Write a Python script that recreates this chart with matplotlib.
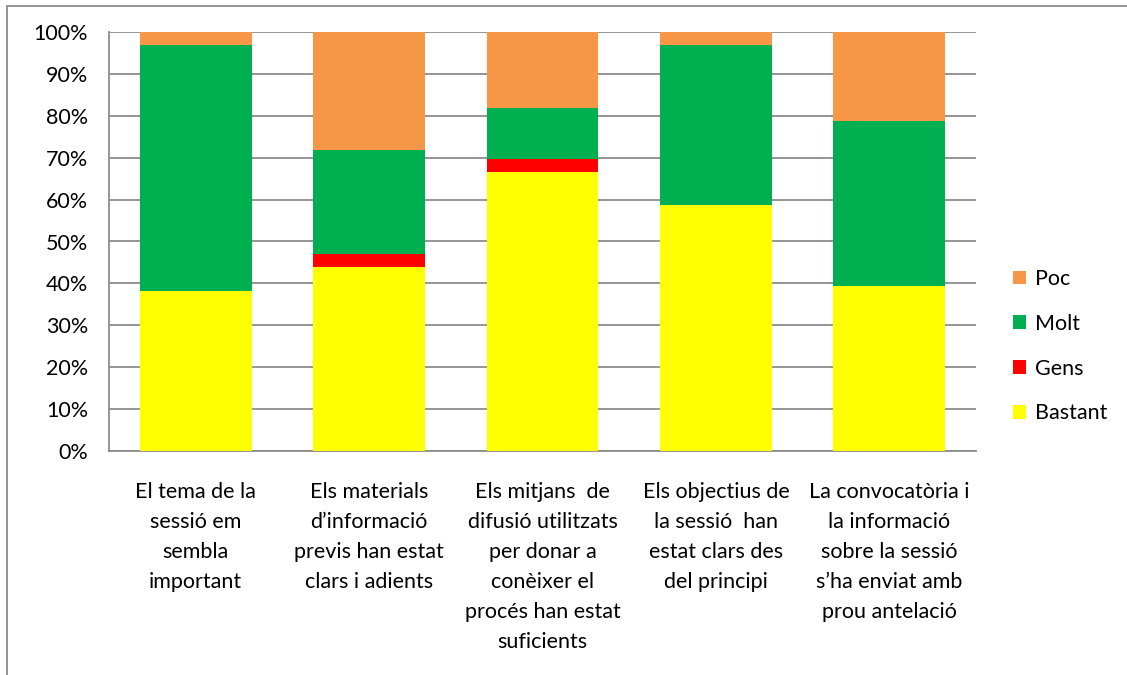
import numpy as np
import matplotlib.pyplot as plt
from matplotlib.patches import Rectangle
from matplotlib.ticker import PercentFormatter

plt.rcParams['font.family'] = ['Lato', 'DejaVu Sans']

categories = [
    "El tema de la\nsessió em\nsembla\nimportant",
    "Els materials\nd’informació\nprevis han estat\nclars i adients",
    "Els mitjans  de\ndifusió utilitzats\nper donar a\nconèixer el\nprocés han estat\nsuficients",
    "Els objectius de\nla sessió  han\nestat clars des\ndel principi",
    "La convocatòria i\nla informació\nsobre la sessió\ns’ha enviat amb\nprou antelació",
]
bastant = [38.2, 43.8, 66.7, 58.8, 39.4]
gens = [0.0, 3.1, 3.0, 0.0, 0.0]
molt = [58.8, 25.0, 12.1, 38.2, 39.4]
poc = [2.9, 28.1, 18.2, 2.9, 21.2]

series = [("Bastant", bastant, "#FFFF00"),
          ("Gens", gens, "#FF0000"),
          ("Molt", molt, "#00AF50"),
          ("Poc", poc, "#F79646")]

fs = 15.5

fig = plt.figure(figsize=(11.27, 6.75), dpi=100)
ax = fig.add_axes([109 / 1127, 1 - 451 / 675, (976 - 109) / 1127, (451 - 32) / 675])

x = np.arange(len(categories))
bottom = np.zeros(len(categories))
handles = []
for name, vals, col in series:
    vals = np.array(vals)
    b = ax.bar(x, vals, 0.645, bottom=bottom, color=col, label=name,
               zorder=3, linewidth=0)
    handles.append(b)
    bottom += vals

ax.set_xlim(-0.5, len(categories) - 0.5)
ax.set_ylim(0, 100)
ax.set_yticks(np.arange(0, 101, 10))
ax.yaxis.set_major_formatter(PercentFormatter(decimals=0))
ax.grid(axis='y', color='#8c8c8c', linewidth=1.3, zorder=0)
for s in ['top', 'right']:
    ax.spines[s].set_visible(False)
ax.spines['left'].set_color('#8c8c8c')
ax.spines['bottom'].set_color('#8c8c8c')
ax.spines['left'].set_linewidth(1.3)
ax.spines['bottom'].set_linewidth(1.3)
ax.tick_params(axis='y', length=0, pad=15, labelsize=fs, colors='black')
ax.tick_params(axis='x', length=0, pad=22)
ax.set_xticks(x)
ax.set_xticklabels(categories, fontsize=fs, linespacing=1.63,
                   va='top', ha='center')

ax.legend(handles[::-1], [h.get_label() for h in handles[::-1]],
          loc='center left', bbox_to_anchor=(1.02, 0.25), frameon=False,
          fontsize=fs, handlelength=0.6, handleheight=0.6,
          labelspacing=1.15, handletextpad=0.45)

fig.patches.append(Rectangle((7 / 1127, -0.5), 2, 0.5 + 1 - 6 / 675,
                             transform=fig.transFigure, fill=False,
                             edgecolor='#8c8c8c', linewidth=1.3))

fig.savefig("out.png", dpi=100)
